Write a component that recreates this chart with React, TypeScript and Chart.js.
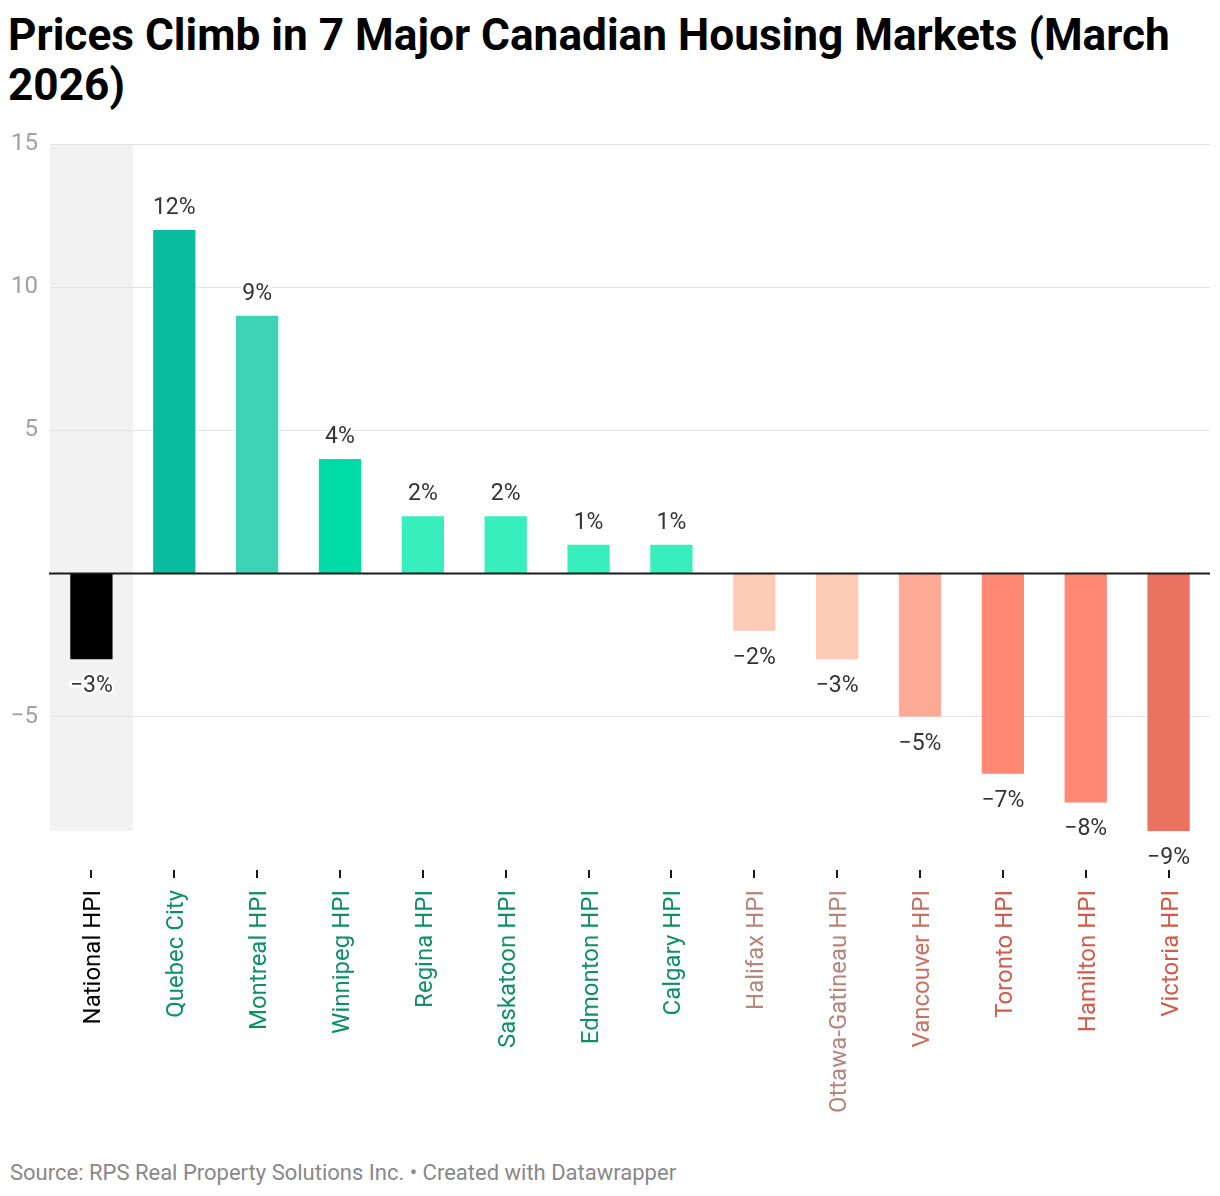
import React, { useEffect, useRef } from "react";
import { Chart, registerables } from "chart.js";

Chart.register(...registerables);

const categories = [
  "National HPI",
  "Quebec City",
  "Montreal HPI",
  "Winnipeg HPI",
  "Regina HPI",
  "Saskatoon HPI",
  "Edmonton HPI",
  "Calgary HPI",
  "Halifax HPI",
  "Ottawa-Gatineau HPI",
  "Vancouver HPI",
  "Toronto HPI",
  "Hamilton HPI",
  "Victoria HPI",
];

const changePct = [-3, 12, 9, 4, 2, 2, 1, 1, -2, -3, -5, -7, -8, -9];

const barColors = [
  "#000000",
  "#0abc9f",
  "#3dd3b5",
  "#00dca7",
  "#37eebd",
  "#37eebd",
  "#37eebd",
  "#37eebd",
  "#fdcab6",
  "#fdcab6",
  "#feaa96",
  "#ff8874",
  "#ff8874",
  "#eb7261",
];

const labelColors = [
  "#000000",
  "#0d9162",
  "#0d9162",
  "#0d9162",
  "#0d9162",
  "#0d9162",
  "#0d9162",
  "#0d9162",
  "#b5857a",
  "#b5857a",
  "#c8705f",
  "#d15a48",
  "#d15a48",
  "#d15a48",
];

const yTicks = [-5, 0, 5, 10, 15];
const yMin = -9;
const yMax = 15;

const FONT = "Roboto, 'Noto Sans', sans-serif";

const fmt = (v: number) => (v < 0 ? "\u2212" + Math.abs(v) : String(v));

// Grey band behind the national benchmark column
const highlightBand = {
  id: "highlightBand",
  beforeDraw(chart: any) {
    const { ctx, chartArea, scales } = chart;
    const x = scales.x;
    const step = (chartArea.right - chartArea.left) / categories.length;
    const cx = x.getPixelForValue(0);
    ctx.save();
    ctx.fillStyle = "#f2f2f2";
    ctx.fillRect(cx - step / 2, chartArea.top, step, chartArea.bottom - chartArea.top);
    ctx.restore();
  },
};

// Baseline at zero, value labels with a white halo, and category tick marks
const overlay = {
  id: "overlay",
  afterDatasetsDraw(chart: any) {
    const { ctx, chartArea, scales } = chart;
    const y0 = scales.y.getPixelForValue(0);
    ctx.save();
    ctx.strokeStyle = "#1a1a1a";
    ctx.lineWidth = 2;
    ctx.beginPath();
    ctx.moveTo(chartArea.left - 1, y0);
    ctx.lineTo(chartArea.right, y0);
    ctx.stroke();

    const meta = chart.getDatasetMeta(0);
    ctx.font = `23px ${FONT}`;
    ctx.textAlign = "center";
    ctx.textBaseline = "alphabetic";
    ctx.lineJoin = "round";
    meta.data.forEach((bar: any, i: number) => {
      const v = changePct[i];
      const text = fmt(v) + "%";
      const ty = v >= 0 ? bar.y - 16 : bar.y + 33;
      ctx.strokeStyle = "#ffffff";
      ctx.lineWidth = 5;
      ctx.strokeText(text, bar.x, ty);
      ctx.fillStyle = "#333333";
      ctx.fillText(text, bar.x, ty);
    });

    ctx.strokeStyle = "#1a1a1a";
    ctx.lineWidth = 2;
    categories.forEach((_, i) => {
      const px = Math.round(scales.x.getPixelForValue(i));
      ctx.beginPath();
      ctx.moveTo(px, chartArea.bottom + 39);
      ctx.lineTo(px, chartArea.bottom + 47);
      ctx.stroke();
    });
    ctx.restore();
  },
};

export default function App() {
  const canvasRef = useRef<HTMLCanvasElement | null>(null);

  useEffect(() => {
    if (!canvasRef.current) return;
    const chart = new Chart(canvasRef.current, {
      type: "bar",
      data: {
        labels: categories,
        datasets: [
          {
            data: changePct,
            backgroundColor: barColors,
            borderWidth: 0,
            barPercentage: 0.51,
            categoryPercentage: 1,
          },
        ],
      },
      options: {
        animation: false,
        responsive: false,
        maintainAspectRatio: false,
        layout: { padding: { top: 24, right: 2, left: 0, bottom: 0 } },
        plugins: {
          legend: { display: false },
          tooltip: { enabled: false },
        },
        scales: {
          x: {
            grid: { display: false, drawTicks: false },
            border: { display: false },
            ticks: {
              autoSkip: false,
              minRotation: 90,
              maxRotation: 90,
              padding: 59,
              labelOffset: 3,
              color: (c: any) => labelColors[c.index] ?? "#000",
              font: { family: FONT, size: 24 },
            },
            afterFit(scale: any) {
              scale.height = 309;
              scale.paddingLeft = 0;
              scale.paddingRight = 0;
            },
          },
          y: {
            min: yMin,
            max: yMax,
            afterBuildTicks(scale: any) {
              scale.ticks = yTicks.map((v) => ({ value: v }));
            },
            grid: {
              drawTicks: false,
              color: (c: any) => (c.tick && c.tick.value === 0 ? "rgba(0,0,0,0)" : "#e3e3e3"),
              lineWidth: 1,
            },
            border: { display: false },
            ticks: {
              padding: 12,
              color: "#a0a0a0",
              font: { family: FONT, size: 24 },
              callback: (v: any) => (Number(v) === 0 ? "" : fmt(Number(v))),
            },
            afterFit(scale: any) {
              scale.width = 42;
              scale.paddingTop = 0;
              scale.paddingBottom = 0;
            },
          },
        },
      },
      plugins: [highlightBand, overlay],
    });
    return () => chart.destroy();
  }, []);

  return (
    <div style={{ position: "relative", width: 1204, height: 1180, background: "#fff" }}>
      <div
        style={{
          position: "absolute",
          left: 0,
          top: 2,
          width: 1204,
          fontFamily: FONT,
          fontWeight: 700,
          fontSize: 44.2,
          lineHeight: "50px",
          color: "#000",
        }}
      >
        Prices Climb in 7 Major Canadian Housing Markets (March 2026)
      </div>
      <canvas
        ref={canvasRef}
        width={1204}
        height={1020}
        style={{ position: "absolute", left: 0, top: 112, width: 1204, height: 1020 }}
      />
      <div
        style={{
          position: "absolute",
          left: 2,
          top: 1151,
          fontFamily: FONT,
          fontSize: 22,
          lineHeight: "28px",
          color: "#888888",
        }}
      >
        Source: RPS Real Property Solutions Inc. • Created with Datawrapper
      </div>
    </div>
  );
}
